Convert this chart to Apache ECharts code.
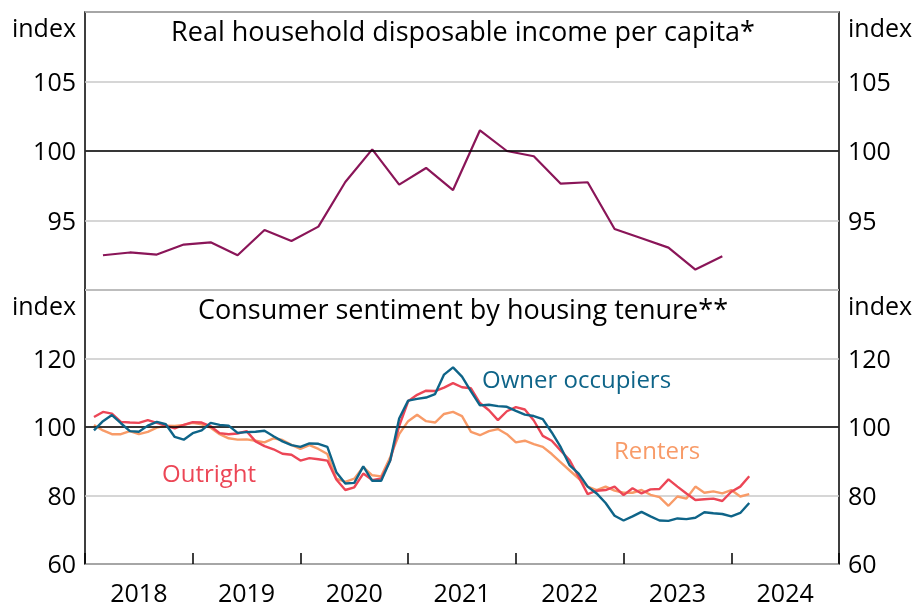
<!DOCTYPE html>
<html>
<head>
<meta charset="utf-8">
<script src="https://cdn.jsdelivr.net/npm/echarts@6/dist/echarts.min.js"></script>
<style>
  html, body { margin: 0; padding: 0; background: #fff; }
  #chart { width: 917px; height: 607px; }
</style>
</head>
<body>
<div id="chart"></div>
<script>
// real household disposable income per capita, quarterly from Mar 2018
const incomeStart = '2018-03'
const incomeValues = [92.5, 92.7, 92.55, 93.27, 93.43, 92.5, 94.32, 93.53, 94.56, 97.77, 100.12, 97.58,
  98.78, 97.19, 101.49, 100.0, 99.62, 97.65, 97.75, 94.39, 93.72, 93.05, 91.47, 92.42]

// consumer sentiment by housing tenure, monthly from Feb 2018
const sentimentStart = '2018-02'
const ownerValues = [99.0, 101.7, 103.5, 101.1, 98.8, 98.6, 100.4, 101.5, 100.8, 97.1, 96.3, 98.2,
  99.0, 101.2, 100.6, 100.4, 98.3, 98.5, 98.6, 98.9, 97.3, 95.8, 94.7, 94.2,
  95.2, 95.1, 94.2, 86.8, 83.5, 83.7, 88.5, 84.3, 84.3, 90.2, 102.5, 107.7,
  108.2, 108.6, 109.6, 115.3, 117.4, 114.7, 110.4, 106.3, 106.5, 106.1, 105.9, 104.7,
  103.6, 103.2, 102.3, 98.4, 94.1, 88.8, 86.4, 82.6, 80.6, 77.8, 74.1, 72.7,
  73.9, 75.2, 73.9, 72.7, 72.6, 73.3, 73.1, 73.5, 75.1, 74.8, 74.6, 73.9,
  74.9, 77.8]
const outrightValues = [102.9, 104.4, 103.9, 101.5, 101.3, 101.2, 102.0, 101.2, 100.4, 99.6, 100.6, 101.4,
  101.3, 100.2, 98.2, 97.9, 98.1, 98.8, 95.8, 94.4, 93.5, 92.2, 91.9, 90.2,
  90.9, 90.6, 90.2, 84.7, 81.6, 82.4, 86.4, 84.5, 85.0, 90.2, 100.3, 107.5,
  109.4, 110.6, 110.5, 111.5, 112.8, 111.6, 111.3, 107.0, 104.9, 102.0, 104.6, 105.8,
  105.1, 101.9, 97.4, 96.0, 93.1, 90.3, 85.4, 80.4, 81.4, 81.6, 82.6, 80.1,
  82.1, 80.6, 81.8, 81.9, 84.7, 82.6, 80.6, 78.7, 78.9, 79.1, 78.4, 81.1,
  82.6, 85.6]
const renterValues = [100.6, 99.0, 97.9, 97.9, 98.8, 97.9, 98.6, 99.8, 100.4, 100.3, 100.6, 101.2,
  100.8, 99.8, 97.9, 96.7, 96.3, 96.4, 96.0, 95.5, 96.7, 96.2, 94.8, 93.6,
  94.7, 93.6, 92.1, 84.9, 84.0, 84.9, 88.3, 85.9, 85.6, 91.2, 97.9, 101.7,
  103.6, 101.7, 101.3, 103.8, 104.4, 103.2, 98.6, 97.6, 98.8, 99.4, 97.9, 95.5,
  96.0, 95.0, 94.2, 92.1, 89.7, 87.3, 84.9, 82.6, 81.6, 82.6, 81.4, 80.8,
  80.8, 81.6, 80.2, 79.5, 77.0, 79.7, 79.1, 82.6, 80.8, 81.2, 80.6, 81.6,
  79.7, 80.4]

const yearLabels = ['2018', '2019', '2020', '2021', '2022', '2023', '2024']

const FONT = '"Open Sans"'
const FS = 25       // axis labels
const TITLE_FS = 27 // panel titles
const NOTE_FS = 24  // series notes

// month string -> fractional year (start of month)
function monthToYear(m) {
  let parts = m.split('-')
  return +parts[0] + (+parts[1] - 1) / 12
}

function buildSeries(start, stepMonths, values) {
  let x0 = monthToYear(start)
  let out = []
  for (let i = 0; i < values.length; i++) {
    out.push([x0 + i * stepMonths / 12, values[i]])
  }
  return out
}

function yAxisFor(grid, pos, min, max, interval, hideMin) {
  return {
    type: 'value', gridIndex: grid, position: pos, min: min, max: max, interval: interval,
    axisLine: { show: false }, axisTick: { show: false },
    splitLine: { show: pos === 'left', lineStyle: { color: '#c8c8c8', width: 1.5 } },
    axisLabel: {
      margin: 9, color: '#000', fontFamily: FONT, fontSize: FS, padding: [4, 0, 0, 0],
      formatter: function (v) {
        if (v === max) return '{i|index}'
        if (hideMin && v === min) return ''
        return v
      },
      rich: { i: { fontFamily: FONT, fontSize: FS, color: '#000', padding: [32, 0, 0, 0] } }
    }
  }
}

var chart = echarts.init(document.getElementById('chart'), null, { renderer: 'canvas' })

const baseLine = {
  silent: true, symbol: 'none', label: { show: false },
  lineStyle: { color: '#000', width: 1.5, type: 'solid' },
  data: [{ yAxis: 100 }]
}

var option = {
  animation: false,
  grid: [
    { left: 85, right: 78, top: 12, height: 278, show: true, borderColor: '#000', borderWidth: 1.5, backgroundColor: 'transparent' },
    { left: 85, right: 78, top: 290, height: 278, show: true, borderColor: '#000', borderWidth: 1.5, backgroundColor: 'transparent' }
  ],
  xAxis: [
    { type: 'value', gridIndex: 0, min: 2018, max: 2025, interval: 1,
      axisLine: { show: false }, axisTick: { show: false }, axisLabel: { show: false }, splitLine: { show: false } },
    { type: 'value', gridIndex: 1, min: 2018, max: 2025, interval: 1,
      axisLine: { show: false }, axisLabel: { show: false }, splitLine: { show: false },
      axisTick: { show: true, inside: true, length: 11, lineStyle: { color: '#000', width: 1.5 } } },
    { type: 'value', gridIndex: 1, min: 2018, max: 2025, interval: 0.5, position: 'bottom',
      axisLine: { show: false }, axisTick: { show: false }, splitLine: { show: false },
      axisLabel: {
        margin: 18, color: '#000', fontFamily: FONT, fontSize: FS,
        formatter: function (v) {
          let idx = Math.floor(v) - 2018
          return (v % 1 !== 0 && yearLabels[idx]) ? yearLabels[idx] : ''
        }
      } }
  ],
  yAxis: [
    yAxisFor(0, 'left', 90, 110, 5, true),
    yAxisFor(0, 'right', 90, 110, 5, true),
    yAxisFor(1, 'left', 60, 140, 20, false),
    yAxisFor(1, 'right', 60, 140, 20, false)
  ],
  series: [
    { name: 'Real household disposable income per capita', type: 'line', xAxisIndex: 0, yAxisIndex: 0,
      data: buildSeries(incomeStart, 3, incomeValues), showSymbol: false,
      lineStyle: { color: '#8a1558', width: 2.2 }, markLine: baseLine, z: 3 },
    { name: 'Renters', type: 'line', xAxisIndex: 1, yAxisIndex: 2,
      data: buildSeries(sentimentStart, 1, renterValues), showSymbol: false,
      lineStyle: { color: '#f89b68', width: 2.4 }, markLine: baseLine, z: 3 },
    { name: 'Outright', type: 'line', xAxisIndex: 1, yAxisIndex: 2,
      data: buildSeries(sentimentStart, 1, outrightValues), showSymbol: false,
      lineStyle: { color: '#ec4656', width: 2.4 }, z: 4 },
    { name: 'Owner occupiers', type: 'line', xAxisIndex: 1, yAxisIndex: 2,
      data: buildSeries(sentimentStart, 1, ownerValues), showSymbol: false,
      lineStyle: { color: '#0e6488', width: 2.4 }, z: 5 }
  ],
  graphic: [
    { type: 'text', x: 463, y: 33, style: { text: 'Real household disposable income per capita*', fill: '#000',
      font: TITLE_FS + 'px ' + FONT, textAlign: 'center', textVerticalAlign: 'middle' } },
    { type: 'text', x: 463, y: 311, style: { text: 'Consumer sentiment by housing tenure**', fill: '#000',
      font: TITLE_FS + 'px ' + FONT, textAlign: 'center', textVerticalAlign: 'middle' } },
    { type: 'text', x: 482, y: 381, style: { text: 'Owner occupiers', fill: '#0e6488',
      font: NOTE_FS + 'px ' + FONT, textAlign: 'left', textVerticalAlign: 'middle' } },
    { type: 'text', x: 614, y: 452, style: { text: 'Renters', fill: '#f89b68',
      font: NOTE_FS + 'px ' + FONT, textAlign: 'left', textVerticalAlign: 'middle' } },
    { type: 'text', x: 162, y: 475, style: { text: 'Outright', fill: '#ec4656',
      font: NOTE_FS + 'px ' + FONT, textAlign: 'left', textVerticalAlign: 'middle' } }
  ]
}

chart.setOption(option)
</script>
</body>
</html>
